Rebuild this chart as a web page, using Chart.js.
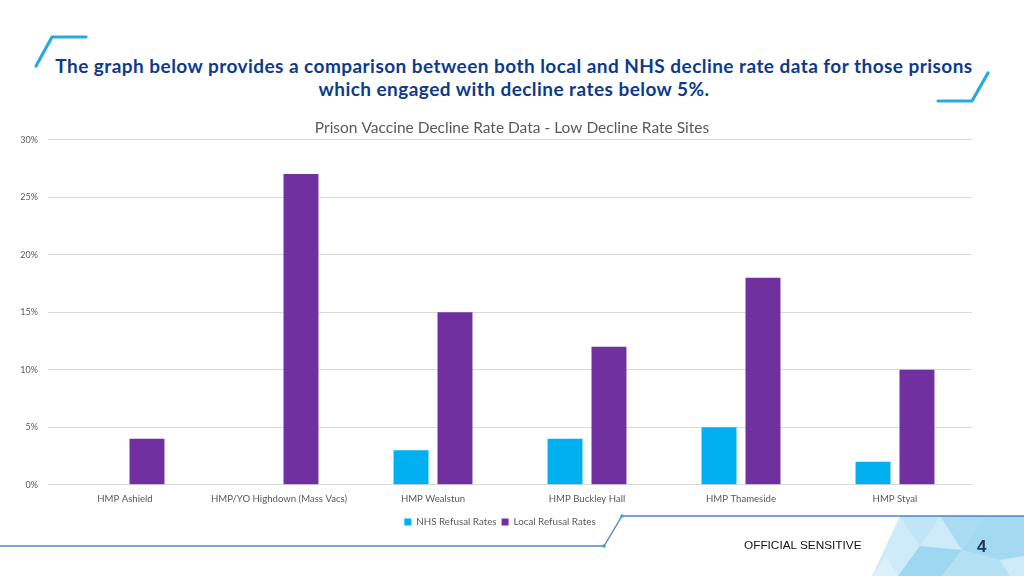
<!DOCTYPE html>
<html>
<head>
<meta charset="utf-8">
<script src="https://cdn.jsdelivr.net/npm/chart.js@4.4.0/dist/chart.umd.min.js"></script>
<style>
  html, body { margin:0; padding:0; background:#fff; }
  #page { position:relative; width:1024px; height:576px; overflow:hidden; background:#fff; }
  #heading { position:absolute; left:0px; top:54px; width:1028px; text-align:center;
    font-family:Lato, "Open Sans", sans-serif; font-weight:700; font-size:19px; letter-spacing:0.45px; line-height:23px; color:#0E3A8C; }
  #chartwrap { position:absolute; left:0; top:100px; width:1024px; height:442px; }
  #official { position:absolute; left:744px; top:538px; font-family:"Liberation Sans", Arial, sans-serif; font-size:11.8px; color:#111; }
  #pagenum { position:absolute; left:977px; top:537px; font-family:"Liberation Sans", Arial, sans-serif; font-size:17px; font-weight:700; color:#1F3864; }
  svg { position:absolute; left:0; top:0; }
</style>
</head>
<body>
<div id="page">
  <svg width="1024" height="576">
    <g fill="none" stroke="#2AA9E0" stroke-width="3.2" stroke-linecap="round" stroke-linejoin="round">
      <polyline points="36,66 52,37 86,37"/>
      <polyline points="988,73 972,101 938,101"/>
    </g>
    <g>
      <polygon points="900,516 1024,516 1024,576 872,576" fill="#CDEBF8"/>
      <polygon points="900,516 940,516 920,546" fill="#BFE5F6"/>
      <polygon points="940,516 985,516 962,550" fill="#A9DCF2"/>
      <polygon points="920,546 962,550 942,576 898,576" fill="#9ED7F0"/>
      <polygon points="962,550 1000,560 1010,576 942,576" fill="#B5E1F4"/>
      <polygon points="985,516 1024,516 1024,556 1000,560 962,550" fill="#A4DAF1"/>
      <polygon points="872,576 898,576 886,556" fill="#DDF1FA"/>
    </g>
    <g fill="none" stroke="#4E86C2" stroke-width="1.3">
      <polyline points="0,546 604,546 622,516 1024,516"/>
    </g>
    <circle cx="604" cy="546" r="1.8" fill="#2AA9E0"/>
    <circle cx="622" cy="516" r="1.8" fill="#2AA9E0"/>
  </svg>
  <div id="heading">The graph below provides a comparison between both local and NHS decline rate data for those prisons<br>which engaged with decline rates below 5%.</div>
  <div id="chartwrap"><canvas id="c" width="1024" height="442"></canvas></div>
  <div id="official">OFFICIAL SENSITIVE</div>
  <div id="pagenum">4</div>
</div>
<script>
const categories = ["HMP Ashield", "HMP/YO Highdown (Mass Vacs)", "HMP Wealstun", "HMP Buckley Hall", "HMP Thameside", "HMP Styal"];
const nhsRefusal = [0, 0, 3, 4, 5, 2];
const localRefusal = [4, 27, 15, 12, 18, 10];
const yTicks = [0, 5, 10, 15, 20, 25, 30];
const chartTitle = "Prison Vaccine Decline Rate Data - Low Decline Rate Sites";

const FONT = 'Lato, "Open Sans", sans-serif';
const legendShift = {
  id: 'legendShift',
  afterLayout(chart) {
    const lg = chart.legend;
    if (lg) { lg.left -= 10; lg.right -= 10; }
  }
};
new Chart(document.getElementById('c'), {
  type: 'bar',
  data: {
    labels: categories,
    datasets: [
      { label: 'NHS Refusal Rates', data: nhsRefusal, backgroundColor: '#00B0F0' },
      { label: 'Local Refusal Rates', data: localRefusal, backgroundColor: '#7030A0' }
    ]
  },
  plugins: [legendShift],
  options: {
    responsive: false,
    animation: false,
    devicePixelRatio: 1,
    layout: { padding: { left: 0, right: 0, top: 19, bottom: 5 } },
    datasets: { bar: { categoryPercentage: 0.571, barPercentage: 0.795 } },
    plugins: {
      title: { display: true, text: chartTitle, color: '#595959',
        font: { family: FONT, size: 15.5, weight: 'normal' }, padding: { top: 0, bottom: 2 } },
      legend: { position: 'bottom', fullSize: false,
        labels: { boxWidth: 7, boxHeight: 7, color: '#595959', font: { family: FONT, size: 9.8 }, padding: 5 } },
      tooltip: { enabled: false }
    },
    scales: {
      x: {
        grid: { display: false, drawTicks: false },
        border: { display: true, color: '#D9D9D9' },
        ticks: { color: '#595959', font: { family: FONT, size: 9.6 }, padding: 8, maxRotation: 0 }
      },
      y: {
        min: 0, max: 30,
        afterFit: (s) => { s.width = 48; },
        afterBuildTicks: (s) => { s.ticks = yTicks.map(v => ({ value: v })); },
        grid: { color: '#D9D9D9', drawTicks: false },
        border: { display: false },
        ticks: { color: '#595959', font: { family: FONT, size: 9 }, padding: 10,
          callback: (v) => v + '%' }
      },
      yRight: {
        position: 'right', min: 0, max: 30,
        afterFit: (s) => { s.width = 52; },
        grid: { display: false, drawTicks: false },
        border: { display: false },
        ticks: { display: false }
      }
    }
  }
});
</script>
</body>
</html>
